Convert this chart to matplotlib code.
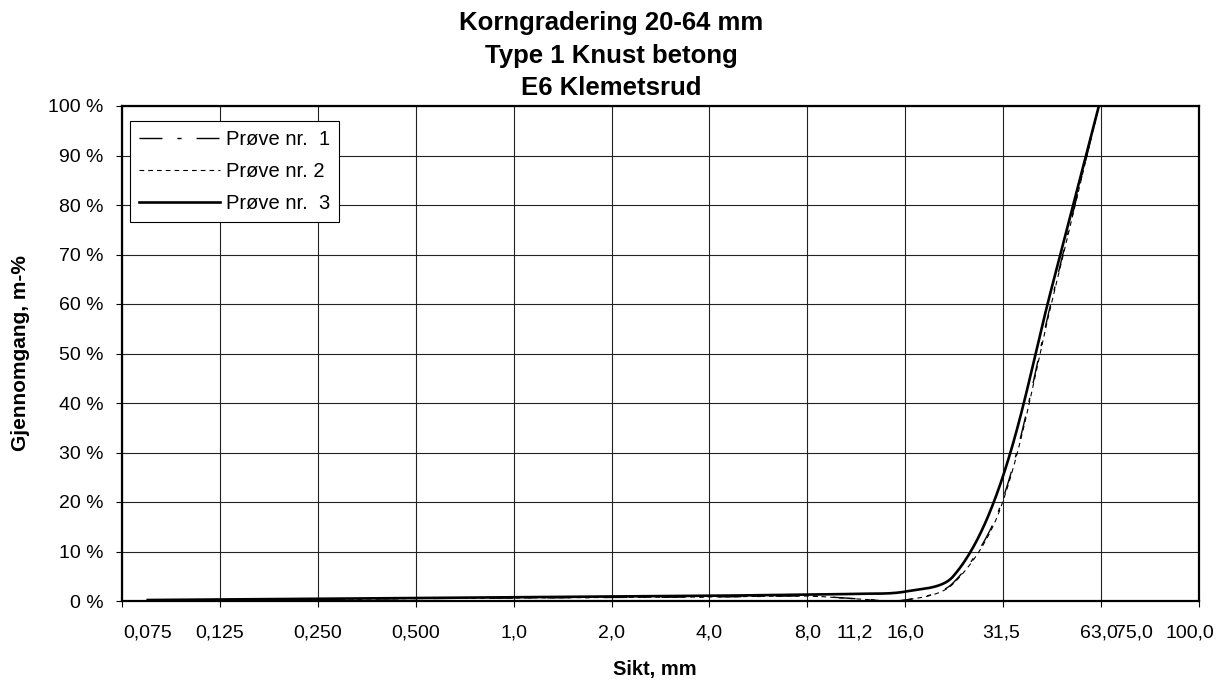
import numpy as np
import matplotlib
matplotlib.use("Agg")
import matplotlib.pyplot as plt
import matplotlib.transforms as mtransforms

plt.rcParams["font.family"] = ["Liberation Sans", "DejaVu Sans"]
plt.rcParams["lines.scale_dashes"] = False

# sikter (mm) og gjennomgang (%)
sikt = [0.075, 0.125, 0.25, 0.5, 1.0, 2.0, 4.0, 8.0, 11.2, 16.0, 22.4, 31.5, 45.0, 63.0]
prove_1 = [0.1, 0.2, 0.35, 0.5, 0.6, 0.7, 0.8, 1.0, 0.5, 0.2, 3.6, 19.5, 60.5, 100.0]
prove_2 = [0.1, 0.2, 0.35, 0.5, 0.6, 0.7, 0.8, 1.0, 0.45, 0.2, 3.4, 19.0, 60.0, 100.0]
prove_3 = [0.2, 0.3, 0.45, 0.6, 0.75, 0.9, 1.05, 1.3, 1.45, 1.9, 4.9, 24.0, 63.0, 100.0]
serier = ["Prøve nr.  1", "Prøve nr. 2", "Prøve nr.  3"]

# tekst under x-aksen
aksetekst = ["0,075", "0,125", "0,250", "0,500", "1,0", "2,0", "4,0", "8,0",
             "11,2", "16,0", "31,5", "63,0", "75,0", "100,0"]
aksetekst_pos = [0.075, 0.125, 0.25, 0.5, 1.0, 2.0, 4.0, 8.0,
                 11.2, 16.0, 31.5, 63.0, 81.0, 120.0]

tittel = ["Korngradering 20-64 mm", "Type 1 Knust betong", "E6 Klemetsrud"]

# piksler per oktav / per prosent, brukes bare til glattingen
PX_OKTAV = 98.0
PX_PROSENT = 4.95


def glatt_kurve(x, y, n=40):
    # Excel-lignende glatting: Bezier med kontrollpunkter skalert etter
    # segmentlengde (i skjermkoordinater)
    u = np.log2(np.asarray(x, dtype=float)) * PX_OKTAV
    v = np.asarray(y, dtype=float) * PX_PROSENT
    p = np.column_stack([u, v])
    ext = np.vstack([p[0], p, p[-1]])
    t = np.linspace(0, 1, n)[:, None]
    deler = []
    for i in range(len(p) - 1):
        p0, p1, p2, p3 = ext[i], ext[i + 1], ext[i + 2], ext[i + 3]
        d01 = np.hypot(*(p1 - p0))
        d12 = np.hypot(*(p2 - p1))
        d23 = np.hypot(*(p3 - p2))
        c1 = p1 + (p2 - p0) * d12 / (3 * (d01 + d12))
        c2 = p2 - (p3 - p1) * d12 / (3 * (d12 + d23))
        seg = ((1 - t) ** 3 * p1 + 3 * (1 - t) ** 2 * t * c1
               + 3 * (1 - t) * t ** 2 * c2 + t ** 3 * p2)
        deler.append(seg if i == 0 else seg[1:])
    kurve = np.vstack(deler)
    return 2 ** (kurve[:, 0] / PX_OKTAV), kurve[:, 1] / PX_PROSENT


fig = plt.figure(figsize=(12.23, 6.84), dpi=100)
ax = fig.add_axes([122 / 1223, 83 / 684, 1077 / 1223, 495 / 684])

ax.set_xscale("log", base=2)
ax.set_xlim(0.0625, 128)
ax.set_ylim(0, 100)

stiler = [
    dict(color="black", lw=1.0, ls=(0, (16.5, 10.8, 3.0, 10.8)), zorder=3),
    dict(color="black", lw=0.8, ls=(0, (3.4, 2.9)), zorder=3),
    dict(color="black", lw=1.9, ls="-", zorder=4),
]
for data, navn, stil in zip([prove_1, prove_2, prove_3], serier, stiler):
    xs, ys = glatt_kurve(sikt, data)
    ax.plot(xs, ys, label=navn, **stil)

ax.set_xticks([2.0 ** k for k in range(-4, 8)])
ax.set_xticklabels([])
ax.xaxis.set_minor_locator(matplotlib.ticker.NullLocator())
ax.set_yticks(range(0, 101, 10))
ax.set_yticklabels([f"{v} %" for v in range(0, 101, 10)], fontsize=14)
ax.tick_params(direction="out", length=4.5, width=0.8, color="black", pad=9)

ax.grid(True, color="#222222", lw=0.8)
ax.set_axisbelow(True)
for s in ax.spines.values():
    s.set_linewidth(1.6)
    s.set_color("black")

trans = mtransforms.blended_transform_factory(ax.transData, ax.transAxes)
for tekst, pos in zip(aksetekst, aksetekst_pos):
    ax.text(pos, -0.065, tekst, transform=trans, ha="center", va="center",
            fontsize=14)

ax.text(0.495, -0.139, "Sikt, mm", transform=ax.transAxes, ha="center",
        va="center", fontsize=14.5, fontweight="bold")
ax.text(-101 / 1077, 0.5, "Gjennomgang, m-%", transform=ax.transAxes,
        rotation=90, ha="center", va="center", fontsize=15, fontweight="bold")

for linje, ypix in zip(tittel, [23, 56, 88]):
    fig.text(0.5, 1 - ypix / 684, linje, ha="center", va="center",
             fontsize=18.5, fontweight="bold")

leg = ax.legend(loc="upper left", bbox_to_anchor=(8 / 1077, 0.9697),
                borderaxespad=0, fontsize=14.5, handlelength=4.0,
                handletextpad=0.3, labelspacing=0.65, borderpad=0.45,
                fancybox=False, framealpha=1, edgecolor="black")
leg.get_frame().set_linewidth(0.8)

fig.savefig("out.png", dpi=100, facecolor="white")
